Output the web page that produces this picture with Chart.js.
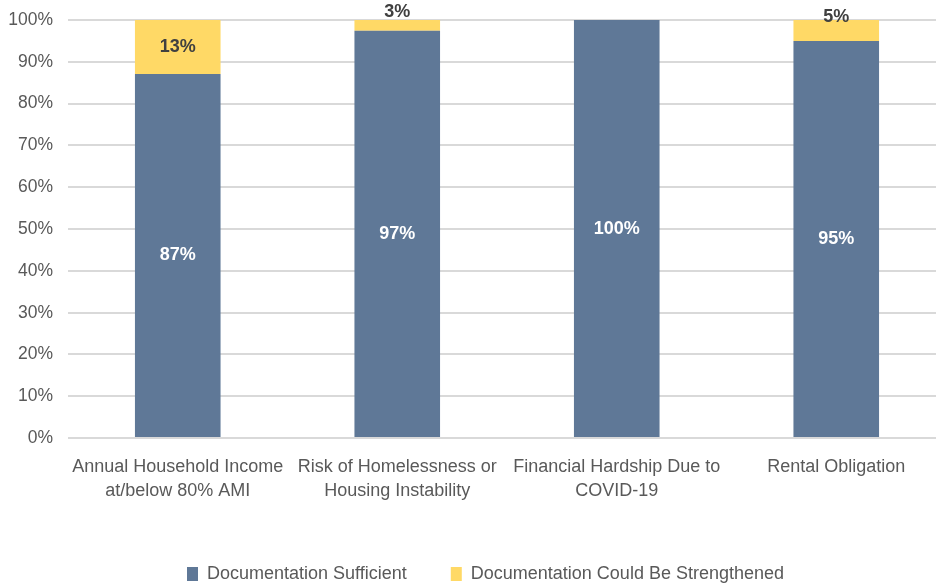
<!DOCTYPE html>
<html>
<head>
<meta charset="utf-8">
<script src="https://cdn.jsdelivr.net/npm/chart.js@4"></script>
<style>
  html, body { margin: 0; padding: 0; background: #fff; overflow: hidden; }
  #wrap { width: 946px; height: 584px; }
</style>
</head>
<body>
<div id="wrap"><canvas id="chart"></canvas></div>
<script>
/* Data */

const categories = [
    ["Annual Household Income", "at/below 80% AMI"],
    ["Risk of Homelessness or", "Housing Instability"],
    ["Financial Hardship Due to", "COVID-19"],
    ["Rental Obligation"]
];
const sufficient = [87.1, 97.4, 100, 95];
const strengthened = [12.9, 2.6, 0, 5];
const yTicks = [0, 10, 20, 30, 40, 50, 60, 70, 80, 90, 100];

const textColor = "#595959";
const fontFamily = "'Liberation Sans', Arial, sans-serif";

/* Labels inside the bars */

const barLabels = {
    id: "barLabels",
    afterDatasetsDraw(chart) {
        const ctx = chart.ctx;
        ctx.save();
        ctx.font = "bold 18px " + fontFamily;
        ctx.textAlign = "center";
        ctx.textBaseline = "middle";

        chart.data.datasets.forEach((dataset, i) => {
            const meta = chart.getDatasetMeta(i);
            meta.data.forEach((bar, j) => {
                const value = dataset.data[j];
                if (!value) return;
                const top = Math.min(bar.y, bar.base);
                const height = Math.abs(bar.base - bar.y);
                let y = top + height / 2;
                if (height < 30) y -= 13;
                ctx.fillStyle = i === 0 ? "#ffffff" : "#404040";
                ctx.fillText(Math.round(value) + "%", bar.x, y);
            });
        });
        ctx.restore();
    }
};

/* Legend sits a little right of centre in the original */

const legendShift = {
    id: "legendShift",
    afterLayout(chart) {
        if (!chart.legend) return;
        chart.legend.left += 9;
        chart.legend.right += 9;
    }
};

const chart = new Chart(document.querySelector("#chart"), {
    type: "bar",
    data: {
        labels: categories,
        datasets: [
            {
                label: "Documentation Sufficient",
                data: sufficient,
                backgroundColor: "#5f7897",
                categoryPercentage: 1,
                barPercentage: 0.39
            },
            {
                label: "Documentation Could Be Strengthened",
                data: strengthened,
                backgroundColor: "#ffd966",
                categoryPercentage: 1,
                barPercentage: 0.39
            }
        ]
    },
    options: {
        responsive: true,
        maintainAspectRatio: false,
        animation: false,
        layout: {
            padding: { top: 20, left: 7, right: 0, bottom: -9 }
        },
        plugins: {
            legend: {
                position: "bottom",
                labels: {
                    color: textColor,
                    font: { family: fontFamily, size: 18 },
                    boxWidth: 11,
                    boxHeight: 14,
                    padding: 44
                }
            },
            tooltip: { enabled: false }
        },
        scales: {
            x: {
                stacked: true,
                grid: { display: false },
                border: { display: true, color: "#d9d9d9" },
                ticks: {
                    color: textColor,
                    font: { family: fontFamily, size: 18, lineHeight: 1.33 },
                    padding: 9,
                    maxRotation: 0
                },
                afterFit(scale) {
                    scale.paddingLeft = 0;
                    scale.paddingRight = 0;
                    scale.height += 9;
                }
            },
            y: {
                stacked: true,
                min: 0,
                max: 100,
                afterBuildTicks(scale) {
                    scale.ticks = yTicks.map(v => ({ value: v }));
                },
                afterFit(scale) {
                    scale.width = 61;
                    scale.paddingTop = 0;
                    scale.paddingBottom = 0;
                },
                grid: { color: "#d9d9d9", lineWidth: 2, drawTicks: false },
                border: { display: false },
                ticks: {
                    color: textColor,
                    font: { family: fontFamily, size: 17.5, lineHeight: 1 },
                    padding: 15,
                    callback: v => v + "%"
                }
            }
        }
    },
    plugins: [barLabels, legendShift]
});
</script>
</body>
</html>
